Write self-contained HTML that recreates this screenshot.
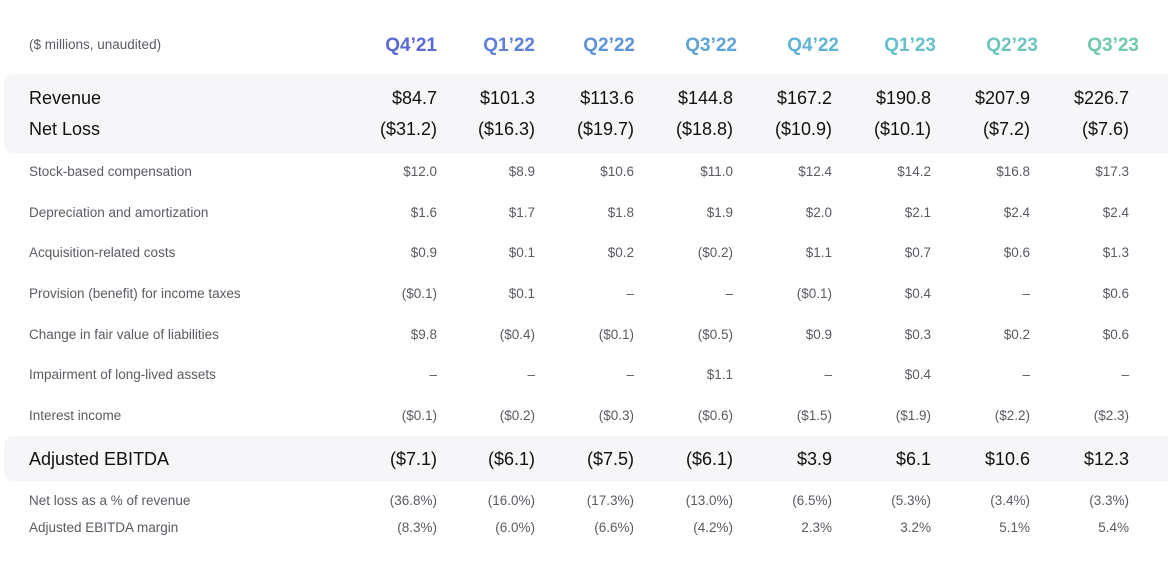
<!DOCTYPE html>
<html><head><meta charset="utf-8">
<style>
body{margin:0;width:1168px;height:561px;background:#fff;position:relative;overflow:hidden;font-family:"Liberation Sans",sans-serif}
.band{position:absolute;background:#f6f6f8;border-radius:10px}
.t{position:absolute;white-space:nowrap;line-height:1}
.lab{left:29px}
.r{transform:translateX(-100%)}
.small{font-size:13.5px;color:#5a5a62}
.big{font-size:18px;color:#111}
.hd{font-size:19px;font-weight:bold}
</style></head><body>
<div class="band" style="left:4px;top:74px;width:1180px;height:80px"></div>
<div class="band" style="left:4px;top:436px;width:1180px;height:46px"></div>
<div class="t small" style="left:29px;top:38px">($ millions, unaudited)</div>
<script>
const quarters=["Q4\u2019 21","Q1\u2019 22","Q2\u2019 22","Q3\u2019 22","Q4\u2019 22","Q1\u2019 23","Q2\u2019 23","Q3\u2019 23"];
const headerColors=["#5a6ad0","#5f80d6","#5f93d8","#60a4d6","#62b3d6","#66bfcc","#6cc6be","#6ecaaa"];
const rowLabels=["Revenue","Net Loss","Stock-based compensation","Depreciation and amortization","Acquisition-related costs","Provision (benefit) for income taxes","Change in fair value of liabilities","Impairment of long-lived assets","Interest income","Adjusted EBITDA","Net loss as a % of revenue","Adjusted EBITDA margin"];
const rowValues=[
["$84.7","$101.3","$113.6","$144.8","$167.2","$190.8","$207.9","$226.7"],
["($31.2)","($16.3)","($19.7)","($18.8)","($10.9)","($10.1)","($7.2)","($7.6)"],
["$12.0","$8.9","$10.6","$11.0","$12.4","$14.2","$16.8","$17.3"],
["$1.6","$1.7","$1.8","$1.9","$2.0","$2.1","$2.4","$2.4"],
["$0.9","$0.1","$0.2","($0.2)","$1.1","$0.7","$0.6","$1.3"],
["($0.1)","$0.1","–","–","($0.1)","$0.4","–","$0.6"],
["$9.8","($0.4)","($0.1)","($0.5)","$0.9","$0.3","$0.2","$0.6"],
["–","–","–","$1.1","–","$0.4","–","–"],
["($0.1)","($0.2)","($0.3)","($0.6)","($1.5)","($1.9)","($2.2)","($2.3)"],
["($7.1)","($6.1)","($7.5)","($6.1)","$3.9","$6.1","$10.6","$12.3"],
["(36.8%)","(16.0%)","(17.3%)","(13.0%)","(6.5%)","(5.3%)","(3.4%)","(3.3%)"],
["(8.3%)","(6.0%)","(6.6%)","(4.2%)","2.3%","3.2%","5.1%","5.4%"]];
const rowY=[98,129,172,213,253,294,335,375,416,459,501,528];
const bigRows=[0,1,9];
const colRight=[437,535,634,733,832,931,1030,1129];
const hdRight=[437,535,635,737,839,936,1038,1139];
function add(cls,txt,x,y,h){const d=document.createElement('div');d.className='t '+cls;d.textContent=txt;d.style.left=x+'px';d.style.top=(y-h/2)+'px';document.body.appendChild(d);return d;}
quarters.forEach((q,i)=>{const d=add('hd r',q.replace(' ',''),hdRight[i],45,19);d.style.color=headerColors[i];

});
rowLabels.forEach((l,r)=>{const big=bigRows.includes(r);const h=big?18:13.5;
const d=add((big?'big':'small')+' lab',l,29,rowY[r],h);


rowValues[r].forEach((v,i)=>{const c=add((big?'big':'small')+' r',v,colRight[i],rowY[r],h);

});});
</script>
</body></html>
